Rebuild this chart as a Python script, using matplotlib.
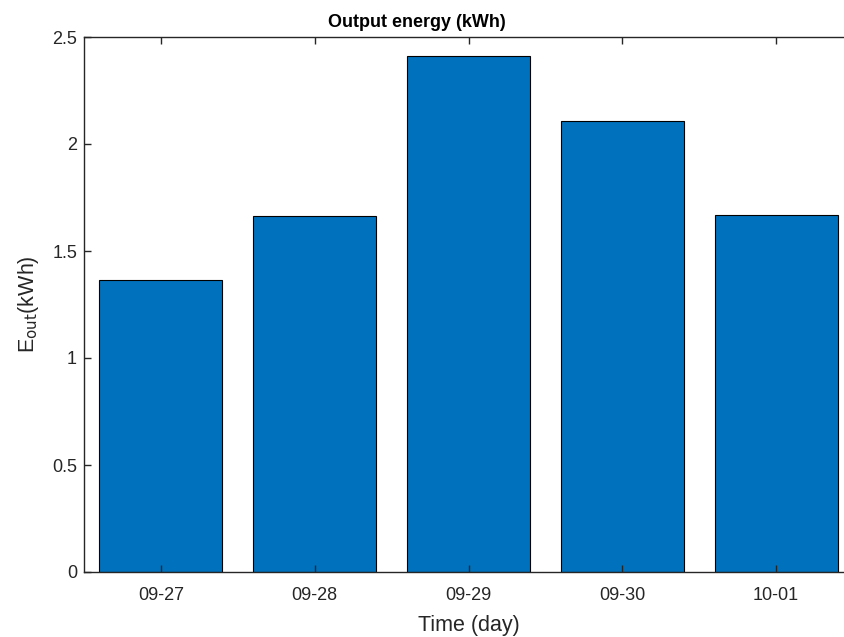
import numpy as np
import matplotlib
matplotlib.use("Agg")
import matplotlib.pyplot as plt

# data
days = ["09-27", "09-28", "09-29", "09-30", "10-01"]
energy_kwh = [1.363, 1.662, 2.409, 2.108, 1.670]

plt.rcParams['font.family'] = ['Liberation Sans', 'DejaVu Sans']

fig = plt.figure(figsize=(8.44, 6.37), dpi=100)
# axes run past the right edge of the picture, like the cropped original
ax = fig.add_axes([84 / 844, 1 - 572 / 637, 769 / 844, 535 / 637])

x = np.arange(1, len(days) + 1)
ax.bar(x, energy_kwh, width=0.8, color="#0072BD", edgecolor="black", linewidth=0.8)

ax.set_xlim(0.5, 5.5)
ax.set_ylim(0, 2.5)
ax.set_xticks(x)
ax.set_xticklabels(days)
ax.set_yticks([0, 0.5, 1, 1.5, 2, 2.5])
ax.set_yticklabels(["0", "0.5", "1", "1.5", "2", "2.5"])

grey = "#262626"
for s in ax.spines.values():
    s.set_color(grey)
    s.set_linewidth(1.0)
ax.spines["right"].set_visible(False)
ax.tick_params(direction="in", length=5, width=1.0, colors=grey, labelsize=13)
ax.tick_params(axis="x", top=True, pad=10.5)
ax.tick_params(axis="y", right=False, pad=5)

ax.set_xlabel("Time (day)", fontsize=15.5, color=grey, labelpad=8)
ax.set_ylabel(r"E$_{\mathrm{out}}$(kWh)", fontsize=15.5, color=grey, labelpad=8)
ax.set_title("Output energy (kWh)", fontsize=13, fontweight="bold",
             color="black", x=(417 - 84) / 769, pad=7)

fig.savefig("out.png", dpi=100)
